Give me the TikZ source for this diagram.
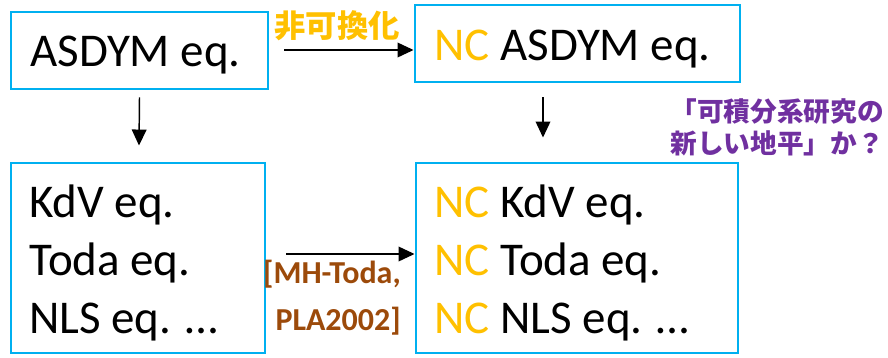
\documentclass[tikz,border=0pt]{standalone}
\usepackage{fontspec}
\setmainfont{Carlito}
\newfontfamily\jpfont{Noto Sans CJK JP}
\usetikzlibrary{arrows.meta,calc}
\definecolor{boxblue}{HTML}{00B0F0}
\definecolor{ncorange}{HTML}{FFC000}
\definecolor{refbrown}{HTML}{9C4A0A}
\definecolor{qpurple}{HTML}{7030A0}
\begin{document}
\begin{tikzpicture}[x=0.75pt,y=-0.75pt,
  box/.style={draw=boxblue,line width=2.2pt,inner sep=0pt},
  eqtext/.style={anchor=base west,inner sep=0pt,font=\fontsize{35.25}{42}\selectfont},
  arr/.style={line width=1.1pt,-{Triangle[length=12pt,width=11pt]}},
  nc/.style={text=ncorange}]
\useasboundingbox (0,0) rectangle (888,357);
% boxes
\node[box,minimum width=192.75pt,minimum height=57.75pt] (b1) at (139.5,50.5) {};
\node[box,minimum width=243.75pt,minimum height=57.75pt] (b2) at (577.5,43.5) {};
\node[box,minimum width=190.5pt,minimum height=142.5pt] (b3) at (138,258) {};
\node[box,minimum width=241.5pt,minimum height=142.5pt] (b4) at (577,258) {};
% texts
\node[eqtext] (t1) at (30,66) {ASDYM eq.};
\node[eqtext] (t2) at (434,60) {\textcolor{ncorange}{NC} ASDYM eq.};
\node[eqtext] (t3a) at (29,217) {KdV eq.};
\node[eqtext] (t3b) at (29,275) {Toda eq.};
\node[eqtext] (t3c) at (29,333) {NLS eq. …};
\node[eqtext] (t4a) at (434,217) {\textcolor{ncorange}{NC} KdV eq.};
\node[eqtext] (t4b) at (434,275) {\textcolor{ncorange}{NC} Toda eq.};
\node[eqtext] (t4c) at (434,333) {\textcolor{ncorange}{NC} NLS eq. …};
% arrows
\draw[arr] ($(b1.east)+(15,-0.5)$) -- ($(b1.east -| b2.west)+(0,-0.5)$);
\draw[arr] ($(b3.east)+(20,-4)$) -- ($(b3.east -| b4.west)+(0,-4)$);
\draw[arr] ($(b1.south)+(0,7)$) -- ($(b3.north)+(1,-16)$);
\draw[arr] ($(b2.south)+(-34.5,14)$) -- ($(b4.north)+(-34,-24)$);
% labels
\node[inner sep=0pt,text=ncorange,font=\jpfont\bfseries\fontsize{23.5}{26}\selectfont] (lab1) at (337,26) {非可換化};
\node[inner sep=0pt,align=right,anchor=base east,text=refbrown,font=\bfseries\fontsize{24}{35.25}\selectfont] (lab2) at (401,330) {[MH-Toda,\\PLA2002]};
\node[inner sep=0pt,align=center,text=qpurple,font=\jpfont\bfseries\fontsize{20}{24}\selectfont] (lab3) at (777,127) {「可積分系研究の\\新しい地平」か？};
\end{tikzpicture}
\end{document}
